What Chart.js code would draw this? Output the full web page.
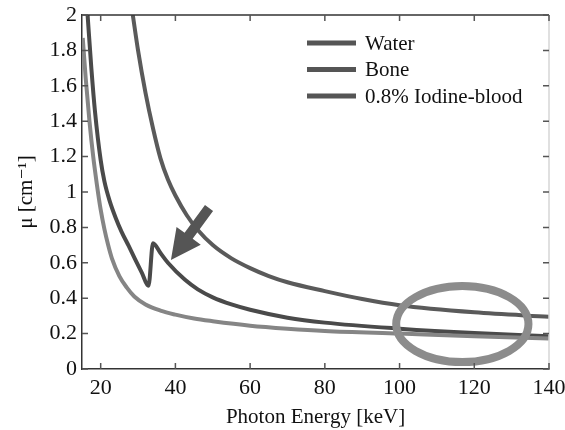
<!DOCTYPE html>
<html lang="en">
<head>
    <meta charset="UTF-8">
    <title>Attenuation coefficients</title>
    <script src="https://cdn.jsdelivr.net/npm/chart.js"></script>
    <style>
        html, body { margin: 0; padding: 0; background: #fff; }
        .chart-box { width: 565px; height: 430px; }
    </style>
</head>
<body>
    <div class="chart-box">
        <canvas id="muChart" width="565" height="430"></canvas>
    </div>

    <script>
        // values (keV, cm^-1)
        const energyWater = [15.2, 16, 17, 18, 19, 20, 21, 22, 23, 25, 27, 29, 32, 36, 40, 45, 50, 60, 70, 80, 100, 120, 140];
        const muWater     = [1.87, 1.64, 1.40, 1.20, 1.04, 0.90, 0.79, 0.70, 0.625, 0.525, 0.46, 0.41, 0.365, 0.33, 0.307, 0.285, 0.27, 0.245, 0.228, 0.215, 0.20, 0.185, 0.172];

        const energyBone = [28.6, 30, 32, 34, 36, 38, 40, 43, 46, 50, 55, 60, 65, 70, 80, 90, 100, 120, 140];
        const muBone     = [2.0, 1.80, 1.56, 1.36, 1.19, 1.07, 0.98, 0.87, 0.785, 0.70, 0.625, 0.57, 0.525, 0.49, 0.44, 0.395, 0.36, 0.32, 0.295];

        const energyIodine = [16.5, 17.5, 18.5, 20, 21, 22.4, 24, 25.6, 27.5, 29.1, 31, 32.8, 34.0, 36, 38, 42.5, 46, 50, 55, 60, 70, 80, 100, 120, 140];
        const muIodine     = [2.0, 1.70, 1.45, 1.18, 1.06, 0.95, 0.855, 0.775, 0.695, 0.625, 0.545, 0.47, 0.71, 0.655, 0.60, 0.505, 0.45, 0.405, 0.365, 0.335, 0.29, 0.262, 0.228, 0.203, 0.185];

        const seriesLabels = ['Water', 'Bone', '0.8% Iodine-blood'];
        const xTicks = [20, 40, 60, 80, 100, 120, 140];
        const yTicks = [0, 0.2, 0.4, 0.6, 0.8, 1, 1.2, 1.4, 1.6, 1.8, 2];
        const yTickLabels = ['0', '0.2', '0.4', '0.6', '0.8', '1', '1.2', '1.4', '1.6', '1.8', '2'];

        // annotations (ellipse around the high-energy region, arrow at the K-edge)
        const ellipseMark = { x: 116.8, y: 0.254, rx: 17.7, ry: 0.215 };
        const arrowMark = { fromX: 49.0, fromY: 0.91, toX: 38.8, toY: 0.616 };

        const serif = "'Liberation Serif', 'DejaVu Serif', serif";

        function toPoints(xs, ys) {
            return xs.map((x, i) => ({ x: x, y: ys[i] }));
        }

        // frame, inward ticks, legend, ellipse and arrow
        const extrasPlugin = {
            id: 'extras',
            afterDatasetsDraw(chart) {
                const ctx = chart.ctx;
                const a = chart.chartArea;
                const xs = chart.scales.x;
                const ys = chart.scales.y;
                ctx.save();

                // ellipse
                const cx = xs.getPixelForValue(ellipseMark.x);
                const cy = ys.getPixelForValue(ellipseMark.y);
                const rx = xs.getPixelForValue(ellipseMark.x + ellipseMark.rx) - cx;
                const ry = cy - ys.getPixelForValue(ellipseMark.y + ellipseMark.ry);
                ctx.beginPath();
                ctx.ellipse(cx, cy, rx, ry, 0, 0, Math.PI * 2);
                ctx.strokeStyle = '#8c8c8c';
                ctx.lineWidth = 8;
                ctx.stroke();

                // arrow
                const x0 = xs.getPixelForValue(arrowMark.fromX), y0 = ys.getPixelForValue(arrowMark.fromY);
                const x1 = xs.getPixelForValue(arrowMark.toX), y1 = ys.getPixelForValue(arrowMark.toY);
                const ang = Math.atan2(y1 - y0, x1 - x0);
                const len = Math.hypot(x1 - x0, y1 - y0);
                ctx.translate(x0, y0);
                ctx.rotate(ang);
                ctx.fillStyle = '#555';
                ctx.beginPath();
                ctx.moveTo(0, -5);
                ctx.lineTo(len - 30, -5);
                ctx.lineTo(len - 30, -15);
                ctx.lineTo(len, 0);
                ctx.lineTo(len - 30, 15);
                ctx.lineTo(len - 30, 5);
                ctx.lineTo(0, 5);
                ctx.closePath();
                ctx.fill();
                ctx.setTransform(1, 0, 0, 1, 0, 0);

                // top and right frame
                ctx.lineWidth = 1.5;
                ctx.strokeStyle = '#333';
                ctx.beginPath();
                ctx.moveTo(a.left, a.top);
                ctx.lineTo(a.right, a.top);
                ctx.stroke();
                ctx.strokeStyle = '#d6d6d6';
                ctx.beginPath();
                ctx.moveTo(a.right, a.top);
                ctx.lineTo(a.right, a.bottom);
                ctx.stroke();

                // inward ticks
                ctx.strokeStyle = '#555';
                ctx.lineWidth = 1.5;
                ctx.beginPath();
                xs.ticks.forEach(t => {
                    const px = xs.getPixelForValue(t.value);
                    ctx.moveTo(px, a.bottom); ctx.lineTo(px, a.bottom - 6);
                    ctx.moveTo(px, a.top); ctx.lineTo(px, a.top + 6);
                });
                ys.ticks.forEach(t => {
                    const py = ys.getPixelForValue(t.value);
                    ctx.moveTo(a.left, py); ctx.lineTo(a.left + 6, py);
                    ctx.moveTo(a.right, py); ctx.lineTo(a.right - 6, py);
                });
                ctx.stroke();

                // legend
                ctx.font = '21px ' + serif;
                ctx.textBaseline = 'middle';
                chart.data.datasets.forEach((ds, i) => {
                    const ly = 43 + i * 26.5;
                    ctx.fillStyle = '#555';
                    ctx.fillRect(307, ly - 2.5, 49, 5);
                    ctx.fillStyle = '#111';
                    ctx.fillText(ds.label, 365, ly + 1);
                });

                ctx.restore();
            }
        };

        const muCtx = document.getElementById('muChart').getContext('2d');
        const muChart = new Chart(muCtx, {
            type: 'line',
            data: {
                datasets: [
                    {
                        label: seriesLabels[0],
                        data: toPoints(energyWater, muWater),
                        borderColor: '#858585',
                        borderWidth: 4
                    },
                    {
                        label: seriesLabels[1],
                        data: toPoints(energyBone, muBone),
                        borderColor: '#5a5a5a',
                        borderWidth: 4
                    },
                    {
                        label: seriesLabels[2],
                        data: toPoints(energyIodine, muIodine),
                        borderColor: '#4a4a4a',
                        borderWidth: 4
                    }
                ]
            },
            options: {
                responsive: false,
                animation: false,
                events: [],
                cubicInterpolationMode: 'monotone',
                pointRadius: 0,
                fill: false,
                layout: {
                    padding: { left: 0, top: 15, right: 16, bottom: 0 }
                },
                plugins: {
                    legend: { display: false },
                    tooltip: { enabled: false }
                },
                scales: {
                    x: {
                        type: 'linear',
                        min: 15,
                        max: 140,
                        afterBuildTicks: s => { s.ticks = xTicks.map(v => ({ value: v })); },
                        afterFit: s => { s.height = 61; s.paddingLeft = 0; s.paddingRight = 0; },
                        grid: { display: false, drawTicks: false },
                        border: { display: true, color: '#333', width: 1.5 },
                        ticks: {
                            padding: 6,
                            color: '#111',
                            font: { family: serif, size: 22 }
                        },
                        title: {
                            display: true,
                            text: 'Photon Energy [keV]',
                            color: '#111',
                            font: { family: serif, size: 21 },
                            padding: { top: 4, bottom: 0 }
                        }
                    },
                    y: {
                        min: 0,
                        max: 2,
                        afterBuildTicks: s => { s.ticks = yTicks.map(v => ({ value: v })); },
                        afterFit: s => { s.width = 82; s.paddingTop = 0; s.paddingBottom = 0; },
                        grid: { display: false, drawTicks: false },
                        border: { display: true, color: '#333', width: 1.5 },
                        ticks: {
                            padding: 5,
                            color: '#111',
                            font: { family: serif, size: 22 },
                            callback: (v, i) => yTickLabels[i]
                        },
                        title: {
                            display: true,
                            text: 'μ [cm⁻¹]',
                            color: '#111',
                            font: { family: serif, size: 21 },
                            padding: { top: 14, bottom: 0 }
                        }
                    }
                }
            },
            plugins: [extrasPlugin]
        });
    </script>
</body>
</html>
